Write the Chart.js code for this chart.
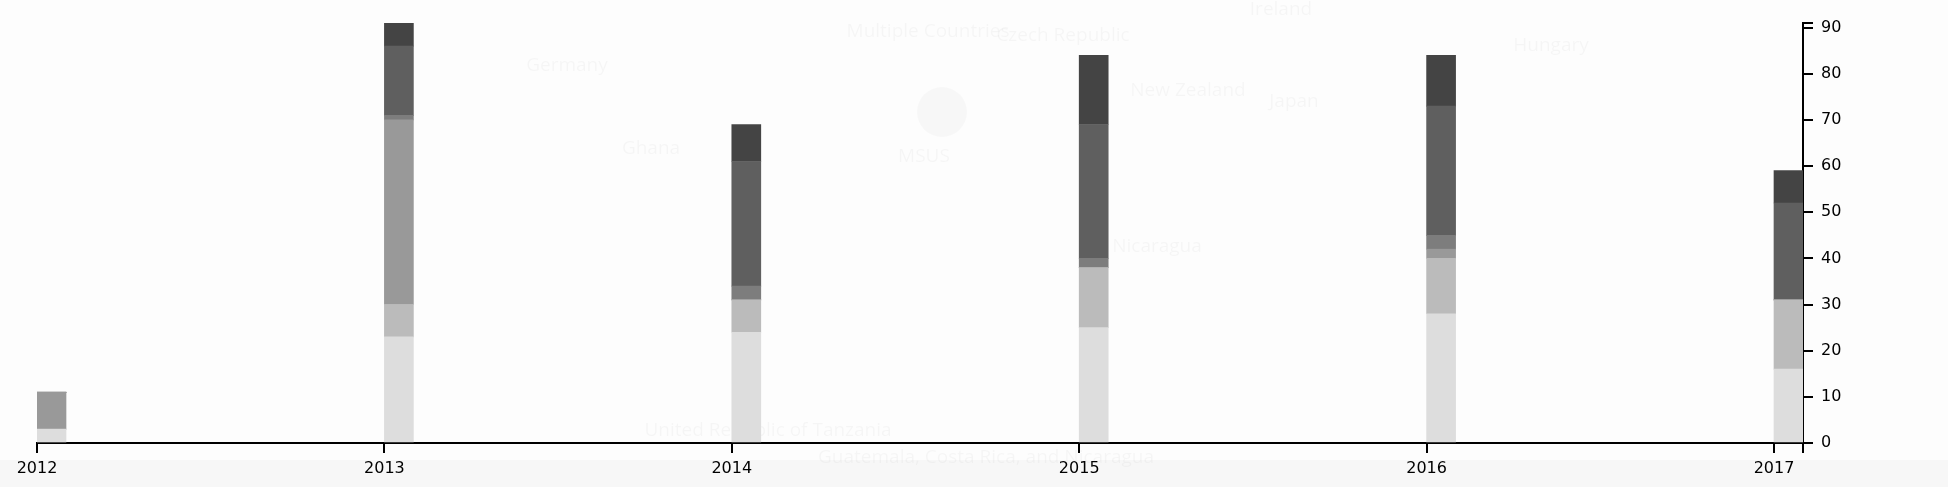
<!DOCTYPE html>
<html>
<head>
<meta charset="utf-8">
<script src="https://cdn.jsdelivr.net/npm/chart.js@4.4.1/dist/chart.umd.min.js"></script>
<style>
  html, body { margin: 0; padding: 0; background: #fdfdfd; }
  #wrap { width: 1948px; height: 487px; position: relative; }
  canvas { display: block; }
</style>
</head>
<body>
<div id="wrap"><canvas id="c" width="1948" height="487"></canvas></div>
<script>
// ---- data ----
const years   = [2012, 2013, 2014, 2015, 2016, 2017];
const seriesA = [3, 23, 24, 25, 28, 16];   // lightest
const seriesB = [0, 7, 7, 13, 12, 15];
const seriesC = [8, 40, 0, 0, 2, 0];
const seriesD = [0, 1, 3, 2, 3, 0];
const seriesE = [0, 15, 27, 29, 28, 21];
const seriesF = [0, 5, 8, 15, 11, 7];      // darkest
const yTickValues = [0, 10, 20, 30, 40, 50, 60, 70, 80, 90];
const yMax = 91;
const xMax = 2017.0835;

const seriesList = [seriesA, seriesB, seriesC, seriesD, seriesE, seriesF];
const colors = ['#dddddd', '#bbbbbb', '#999999', '#7d7d7d', '#5f5f5f', '#444444'];

const ghostLabels = [
  ['Multiple Countries', 928, 32], ['Czech Republic', 1063, 36], ['Ireland', 1281, 10],
  ['Germany', 567, 66], ['Hungary', 1551, 46], ['New Zealand', 1188, 91], ['Japan', 1294, 102],
  ['MSUS', 924, 157], ['Ghana', 651, 149], ['Nicaragua', 1157, 247],
  ['United Republic of Tanzania', 768, 431], ['Guatemala, Costa Rica, and Nicaragua', 986, 458]
];

const bgPlugin = {
  id: 'bg',
  beforeDraw(chart) {
    const ctx = chart.ctx;
    ctx.save();
    ctx.fillStyle = '#fdfdfd';
    ctx.fillRect(0, 0, chart.width, chart.height);
    ctx.fillStyle = '#f7f7f7';
    ctx.fillRect(0, 460, chart.width, chart.height - 460);
    ctx.fillStyle = 'rgba(0,0,0,0.025)';
    ctx.beginPath();
    ctx.arc(942, 112, 25, 0, Math.PI * 2);
    ctx.fill();
    ctx.fillStyle = 'rgba(0,0,0,0.03)';
    ctx.font = '19px "Open Sans"';
    ctx.textAlign = 'center';
    ctx.textBaseline = 'middle';
    ghostLabels.forEach(([t, x, y]) => ctx.fillText(t, x, y));
    ctx.restore();
  }
};

const shiftBars = {
  id: 'shiftBars',
  afterDatasetsUpdate(chart) {
    chart.data.datasets.forEach((ds, i) => {
      chart.getDatasetMeta(i).data.forEach(el => { el.x += el.width / 2; });
    });
  }
};

const font = { family: 'DejaVu Sans', size: 16 };

new Chart(document.getElementById('c'), {
  type: 'bar',
  data: {
    datasets: seriesList.map((s, i) => ({
      data: years.map((y, j) => ({ x: y, y: s[j] })),
      backgroundColor: colors[i],
      borderWidth: 0,
      barThickness: 29
    }))
  },
  options: {
    responsive: false,
    animation: false,
    devicePixelRatio: 1,
    layout: { padding: { left: 37, top: 23, right: 0, bottom: 0 } },
    plugins: { legend: { display: false }, tooltip: { enabled: false } },
    scales: {
      x: {
        type: 'linear',
        stacked: true,
        min: 2012,
        max: xMax,
        offset: false,
        afterBuildTicks: s => { s.ticks = years.map(v => ({ value: v })).concat([{ value: xMax }]); },
        afterFit: s => { s.height = 44; },
        ticks: {
          callback: v => years.includes(v) ? String(v) : '',
          font, color: '#000', padding: 6, maxRotation: 0, minRotation: 0, autoSkip: false, includeBounds: false
        },
        grid: { offset: false, drawOnChartArea: false, drawTicks: true, tickLength: 10, color: '#000', lineWidth: 2 },
        border: { display: true, color: '#000', width: 2 }
      },
      y: {
        position: 'right',
        stacked: true,
        min: 0,
        max: yMax,
        afterBuildTicks: s => { s.ticks = yTickValues.map(v => ({ value: v })).concat([{ value: yMax }]); },
        afterFit: s => { s.width = 145; },
        ticks: {
          callback: v => yTickValues.includes(v) ? String(v) : '',
          font, color: '#000', padding: 8, autoSkip: false, includeBounds: false
        },
        grid: { offset: false, drawOnChartArea: false, drawTicks: true, tickLength: 10, color: '#000', lineWidth: 2 },
        border: { display: true, color: '#000', width: 2 }
      }
    }
  },
  plugins: [bgPlugin, shiftBars]
});
</script>
</body>
</html>
